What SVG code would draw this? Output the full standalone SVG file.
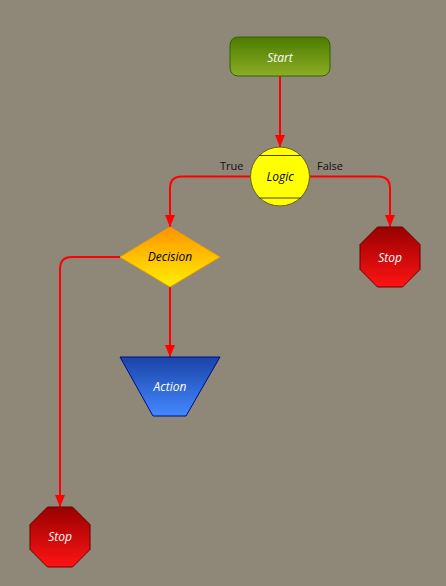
<svg xmlns="http://www.w3.org/2000/svg" width="446" height="586" viewBox="0 0 446 586">
<defs>
<linearGradient id="gStart" x1="0" y1="0" x2="0" y2="1"><stop offset="0" stop-color="#4c7c00"/><stop offset="1" stop-color="#8cac24"/></linearGradient>
<linearGradient id="gDec" x1="0" y1="0" x2="0" y2="1"><stop offset="0" stop-color="#ff9200"/><stop offset="1" stop-color="#fff000"/></linearGradient>
<linearGradient id="gStop" x1="0" y1="0" x2="0" y2="1"><stop offset="0" stop-color="#980000"/><stop offset="1" stop-color="#ff1414"/></linearGradient>
<linearGradient id="gAct" x1="0" y1="0" x2="0" y2="1"><stop offset="0" stop-color="#1a44a8"/><stop offset="1" stop-color="#4488ff"/></linearGradient>
<marker id="arr" markerWidth="12" markerHeight="10" refX="12" refY="5" orient="auto" markerUnits="userSpaceOnUse"><path d="M0,0 L12,5 L0,10 Z" fill="#ff0000"/></marker>
<style>
.lbl{font-family:"Open Sans","Noto Sans","DejaVu Sans",sans-serif;font-size:12px;font-style:italic;text-anchor:middle}
.edge{fill:none;stroke:#ff0000;stroke-width:2}
.elbl{font-family:"Open Sans","Noto Sans","DejaVu Sans",sans-serif;font-size:11px;fill:#111}
.stop{fill:url(#gStop);stroke:#6a0000;stroke-width:1}
</style>
</defs>
<rect width="446" height="586" fill="#8f8778"/>
<g id="connectors">
<path class="edge" d="M280,76 V147" marker-end="url(#arr)"/>
<path class="edge" d="M251,176.5 H182 Q170,176.5 170,188.5 V227" marker-end="url(#arr)"/>
<path class="edge" d="M309,176.5 H378 Q390,176.5 390,188.5 V227" marker-end="url(#arr)"/>
<path class="edge" d="M120,257 H72 Q60,257 60,269 V507" marker-end="url(#arr)"/>
<path class="edge" d="M170,287 V357" marker-end="url(#arr)"/>
<text class="elbl" x="220" y="170">True</text>
<text class="elbl" x="317" y="170">False</text>
</g>
<g id="start">
<rect x="230" y="37" width="100" height="39" rx="8" fill="url(#gStart)" stroke="#2e6400"/>
<text class="lbl" x="280" y="62" fill="#ffffff">Start</text>
</g>
<g id="logic">
<circle cx="280" cy="176.5" r="29.5" fill="#ffff00" stroke="#6b6020"/>
<line x1="259" y1="155.5" x2="301" y2="155.5" stroke="#4a4420"/>
<line x1="259" y1="198" x2="301" y2="198" stroke="#4a4420"/>
<text class="lbl" x="280" y="181" fill="#000">Logic</text>
</g>
<g id="decision">
<polygon points="170,227 220,257 170,287 120,257" fill="url(#gDec)" stroke="#e8a000"/>
<text class="lbl" x="170" y="261" fill="#000">Decision</text>
</g>
<g id="stop1">
<polygon class="stop" points="377.5,227 402.5,227 420,244.5 420,269.5 402.5,287 377.5,287 360,269.5 360,244.5"/>
<text class="lbl" x="390" y="262" fill="#ffffff">Stop</text>
</g>
<g id="action">
<polygon points="120,357 220,357 186,416 153,416" fill="url(#gAct)" stroke="#000a8a"/>
<text class="lbl" x="170" y="391" fill="#ffffff">Action</text>
</g>
<g id="stop2">
<polygon class="stop" points="47.5,507 72.5,507 90,524.5 90,549.5 72.5,567 47.5,567 30,549.5 30,524.5"/>
<text class="lbl" x="60" y="541" fill="#ffffff">Stop</text>
</g>
</svg>
